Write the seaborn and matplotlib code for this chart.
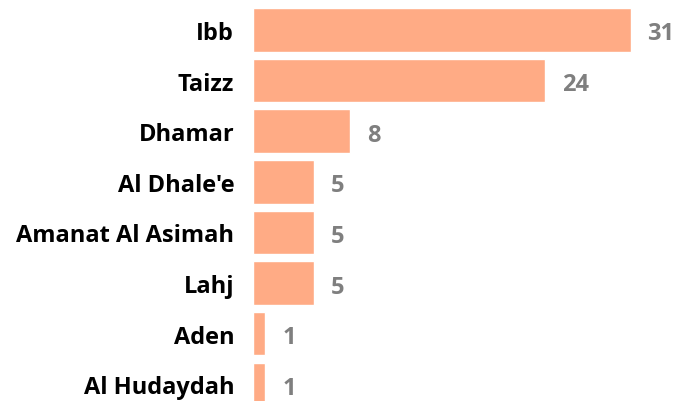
import matplotlib
matplotlib.use("Agg")
import matplotlib.pyplot as plt
import seaborn as sns
import pandas as pd

# data
regions = ['Ibb', 'Taizz', 'Dhamar', "Al Dhale'e", 'Amanat Al Asimah', 'Lahj', 'Aden', 'Al Hudaydah']
counts = [31, 24, 8, 5, 5, 5, 1, 1]

df = pd.DataFrame({'region': regions, 'count': counts})

sns.set_style('white')
plt.rcParams['font.family'] = ['Open Sans', 'DejaVu Sans']

W, H = 678, 402
fig = plt.figure(figsize=(W / 100, H / 100), dpi=100)
ax = fig.add_axes([253 / W, 0, 1 - 253 / W, 1])

sns.barplot(data=df, y='region', x='count', orient='h', color='#FFAB85',
            saturation=1, width=0.86, ax=ax)

ax.set_xlim(0, 34.9)
ax.set_ylim(7.33, -0.61)
ax.set_xlabel('')
ax.set_ylabel('')
ax.set_xticks([])
ax.tick_params(axis='y', length=0, pad=13.5)
for lab in ax.get_yticklabels():
    lab.set_fontsize(17)
    lab.set_fontweight('bold')
    lab.set_color('black')
for s in ax.spines.values():
    s.set_visible(False)

for i, v in enumerate(counts):
    ax.annotate(str(v), xy=(v, i), xytext=(17, -3.5), textcoords='offset pixels',
                ha='left', va='center', fontsize=17, fontweight='bold', color='#7F7F7F')

fig.savefig('out.png', dpi=100)
